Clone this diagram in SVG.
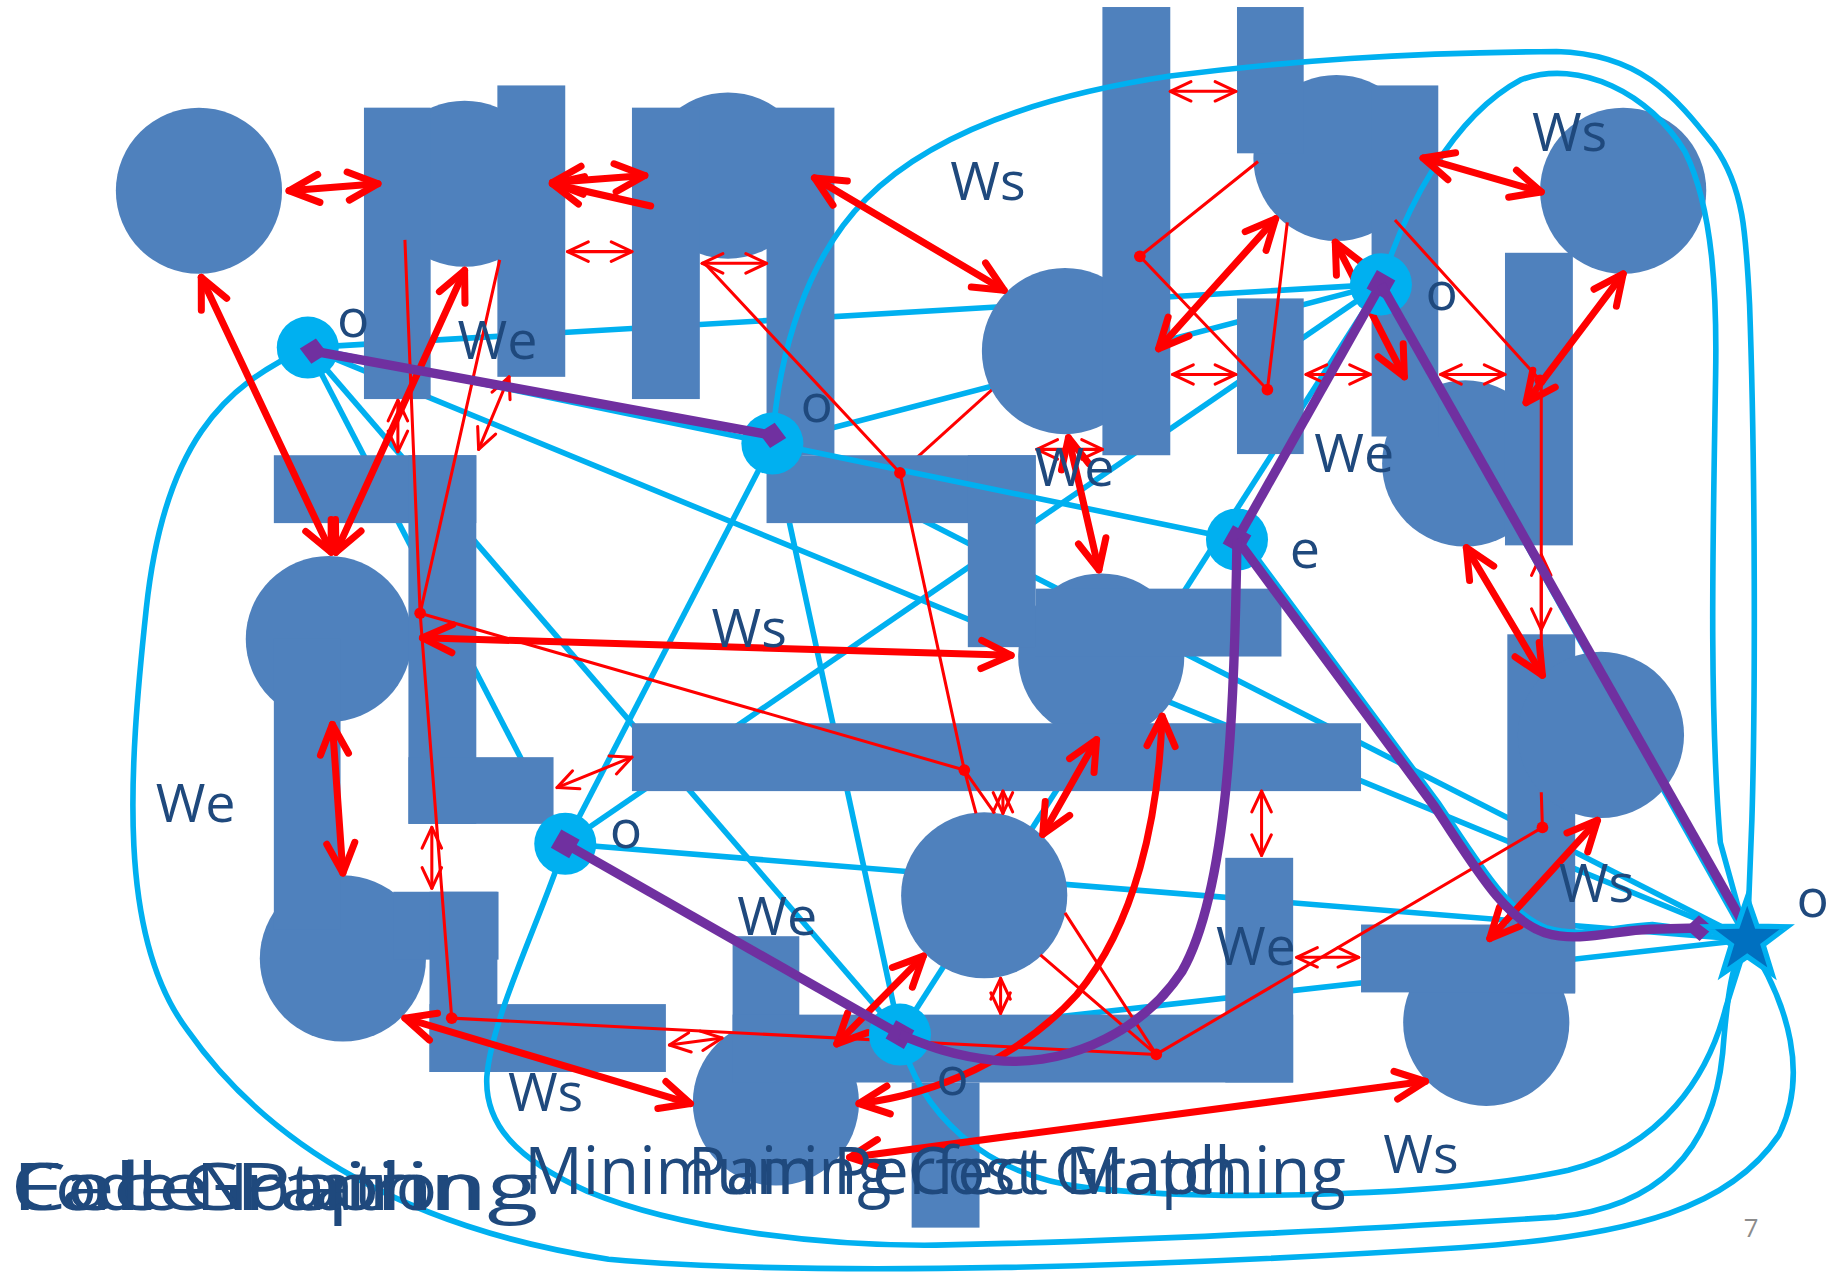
<svg xmlns="http://www.w3.org/2000/svg" width="1835" height="1274" viewBox="0 0 1835 1274">
<defs>
<style>
.sh{fill:#4F81BD}
.cy{fill:none;stroke:#00B0F0;stroke-width:4.8}
.nd{fill:#00B0F0}
.rt{fill:none;stroke:#FF0000;stroke-width:6;stroke-linecap:round;marker-start:url(#ahT);marker-end:url(#ahT)}
.rn{fill:none;stroke:#FF0000;stroke-width:2.6;stroke-linecap:round;marker-start:url(#aht);marker-end:url(#aht)}
.rl{fill:none;stroke:#FF0000;stroke-width:2.6}
.dot{fill:#FF0000}
.pp{fill:none;stroke:#7030A0;stroke-width:8}
.lb{font-family:"Open Sans","Liberation Sans",sans-serif;font-size:46px;fill:#1F497D}
.tt{font-family:"Open Sans","Liberation Sans",sans-serif;font-size:56px;fill:#1F497D}
</style>
<marker id="ahT" viewBox="0 0 10 10" refX="8.5" refY="5" markerWidth="5" markerHeight="5" orient="auto-start-reverse" markerUnits="strokeWidth" overflow="visible"><path d="M0,1 L8.5,5 L0,9" fill="none" stroke="#FF0000" stroke-width="2" stroke-linecap="round" stroke-linejoin="round"/></marker>
<marker id="aht" viewBox="0 0 10 10" refX="8.5" refY="5" markerWidth="8" markerHeight="8" orient="auto-start-reverse" markerUnits="strokeWidth" overflow="visible"><path d="M0,1 L8.5,5 L0,9" fill="none" stroke="#FF0000" stroke-width="1.25" stroke-linecap="round" stroke-linejoin="round"/></marker>
<marker id="sq" viewBox="-10 -10 20 20" refX="0" refY="0" markerWidth="20" markerHeight="20" markerUnits="userSpaceOnUse" orient="auto" overflow="visible"><path d="M-9,-9H9V9H-9Z" fill="#7030A0"/></marker>
<marker id="dia" viewBox="-13 -13 26 26" refX="0" refY="0" markerWidth="26" markerHeight="26" markerUnits="userSpaceOnUse" orient="auto" overflow="visible"><path d="M-12,0L0,-11L12,0L0,11Z" fill="#7030A0"/></marker>
</defs>
<g transform="scale(1.17028)">
<g id="connectors-under">
<path class="cy" d="M263,297L1180,243"/>
<path class="cy" d="M660,379L1180,243"/>
<path class="cy" d="M263,297L1493,803"/>
<path class="cy" d="M660,379L1493,803"/>
<path class="cy" d="M263,297L483,721"/>
<path class="cy" d="M263,297L769,884"/>
<path class="cy" d="M660,379L769,884"/>
<path class="cy" d="M660,379L483,721"/>
<path class="cy" d="M483,721L1180,243"/>
<path class="cy" d="M769,884L1180,243"/>
<path class="cy" d="M483,721L1493,803"/>
<path class="cy" d="M769,884L1493,803"/>
<path class="cy" d="M483,721L769,884"/>
<path class="cy" d="M1180,243L1493,803"/>
<path class="rl" d="M974,219L769,404"/>
</g>
<g id="shapes">
<circle id="c1" class="sh" cx="170" cy="163" r="71"/>
<circle id="c2" class="sh" cx="397" cy="157" r="71"/>
<circle id="c3" class="sh" cx="622" cy="150" r="71"/>
<circle id="c4" class="sh" cx="910" cy="300" r="71"/>
<circle id="c5" class="sh" cx="1142" cy="135" r="71"/>
<circle id="c6" class="sh" cx="1387" cy="163" r="71"/>
<circle id="c7" class="sh" cx="1252" cy="396" r="71"/>
<circle id="c8" class="sh" cx="941" cy="561" r="71"/>
<circle id="c9" class="sh" cx="281" cy="546" r="71"/>
<circle id="c11" class="sh" cx="293" cy="819" r="71"/>
<circle id="c12" class="sh" cx="841" cy="765" r="71"/>
<circle id="c13" class="sh" cx="663" cy="942" r="71"/>
<circle id="c14" class="sh" cx="1270" cy="874" r="71"/>
<rect class="sh" x="311" y="92" width="57" height="249"/>
<rect class="sh" x="425" y="73" width="58" height="249"/>
<rect class="sh" x="540" y="92" width="58" height="249"/>
<rect class="sh" x="655" y="92" width="58" height="297"/>
<rect class="sh" x="655" y="389" width="230" height="58"/>
<rect class="sh" x="827" y="389" width="58" height="164"/>
<rect class="sh" x="885" y="503" width="210" height="58"/>
<rect class="sh" x="540" y="618" width="623" height="58"/>
<rect class="sh" x="942" y="6" width="58" height="383"/>
<rect class="sh" x="1057" y="6" width="57" height="125"/>
<rect class="sh" x="1172" y="73" width="57" height="300"/>
<rect class="sh" x="1057" y="255" width="57" height="133"/>
<rect class="sh" x="1286" y="216" width="58" height="250"/>
<rect class="sh" x="234" y="389" width="173" height="58"/>
<rect class="sh" x="349" y="389" width="58" height="315"/>
<rect class="sh" x="349" y="647" width="124" height="57"/>
<rect class="sh" x="234" y="546" width="57" height="248"/>
<rect class="sh" x="336" y="762" width="90" height="58"/>
<rect class="sh" x="367" y="762" width="58" height="154"/>
<rect class="sh" x="367" y="858" width="202" height="58"/>
<rect class="sh" x="626" y="800" width="57" height="90"/>
<rect class="sh" x="626" y="867" width="479" height="58"/>
<rect class="sh" x="1047" y="733" width="58" height="192"/>
<rect class="sh" x="779" y="925" width="58" height="124"/>
<rect class="sh" x="1288" y="542" width="58" height="307"/>
<rect class="sh" x="1163" y="790" width="183" height="58"/>
<path class="rl" d="M1317,325L1317,579"/>
<circle id="c10" class="sh" cx="1368" cy="628" r="71"/>
</g>
<g id="connectors">
<path class="cy" d="M263,297L1057,461"/>
<path class="cy" d="M263,297C190,330 140,380 125,520C110,660 100,800 160,880C230,980 350,1050 520,1076C700,1092 1000,1082 1250,1066C1400,1056 1480,1030 1520,970C1545,920 1530,860 1493,803"/>
<path class="cy" d="M483,721C460,790 420,870 416,920C414,960 440,990 502,1018C580,1050 700,1065 800,1064C1000,1060 1200,1048 1330,1040C1430,1030 1465,970 1472,900C1476,850 1480,820 1493,803"/>
<path class="cy" d="M769,884C785,950 840,1005 930,1015C1050,1028 1250,1020 1340,1000C1420,980 1460,920 1475,860L1493,803"/>
<path class="cy" d="M660,379C665,300 690,220 740,170C800,110 900,80 1000,65C1100,52 1200,45 1330,44C1400,46 1430,80 1465,125C1490,160 1492,200 1495,260C1500,400 1500,600 1497,700L1493,803"/>
<path class="cy" d="M1180,243C1200,180 1240,100 1300,68C1350,50 1410,80 1440,130C1465,180 1467,260 1466,320C1464,450 1460,600 1470,720L1493,803"/>
<path class="cy" d="M1061,459L1229,686C1264,738 1289,781 1322,793C1352,802 1382,791 1412,790L1493,800"/>
<path class="rt" d="M247,163L323,157"/>
<path class="rt" d="M472,156L551,150"/>
<path class="rt" d="M556,176L472,157" style="marker-start:none"/>
<path class="rt" d="M696,152L858,248"/>
<path class="rt" d="M172,237L283,472"/>
<path class="rt" d="M397,231L287,472"/>
<path class="rt" d="M284,619L293,746"/>
<path class="rt" d="M361,545L864,560"/>
<path class="rt" d="M913,374L939,487"/>
<path class="rt" d="M1090,187L990,298"/>
<path class="rt" d="M1216,135L1317,164"/>
<path class="rt" d="M1141,207L1200,322"/>
<path class="rt" d="M1387,234L1304,344"/>
<path class="rt" d="M1253,468L1318,577"/>
<path class="rt" d="M1365,701L1273,802"/>
<path class="rt" d="M937,632L891,713"/>
<path class="rt" d="M993,612C990,700 970,790 920,850C870,905 800,935 734,943"/>
<path class="rt" d="M789,817L715,892"/>
<path class="rt" d="M346,870L590,943"/>
<path class="rt" d="M726,989L1218,924"/>
<path class="rn" d="M485,215L540,215"/>
<path class="rn" d="M600,225L655,225"/>
<path class="rn" d="M1000,78L1056,78"/>
<path class="rn" d="M1002,320L1056,320"/>
<path class="rn" d="M1116,320L1171,320"/>
<path class="rn" d="M1231,320L1286,320"/>
<path class="rn" d="M886,384L942,384"/>
<path class="rn" d="M435,322L409,384"/>
<path class="rn" d="M340,342L340,386"/>
<path class="rn" d="M476,673L540,647"/>
<path class="rn" d="M369,707L369,759"/>
<path class="rn" d="M572,893L617,887"/>
<path class="rn" d="M857,676L857,695"/>
<path class="rn" d="M855,836L855,866"/>
<path class="rn" d="M1078,676L1078,731"/>
<path class="rn" d="M1108,818L1161,818"/>
<path class="rn" d="M1317,474L1317,538"/>
<path class="rl" d="M974,219L1075,138M974,219L1083,333L1100,190M1316,325L1192,188M1317,677L1318,707M769,404L602,225M769,404L824,658M359,524L346,205M359,524L427,222M359,524L386,870M359,524L824,658M824,658L834,695M824,658L850,695M386,870L988,901L889,816M988,901L910,780M988,901L1318,707"/>
<circle class="dot" cx="974" cy="219" r="5"/>
<circle class="dot" cx="1083" cy="333" r="5"/>
<circle class="dot" cx="1316" cy="325" r="5"/>
<circle class="dot" cx="769" cy="404" r="5"/>
<circle class="dot" cx="359" cy="524" r="5"/>
<circle class="dot" cx="824" cy="658" r="5"/>
<circle class="dot" cx="386" cy="870" r="5"/>
<circle class="dot" cx="988" cy="901" r="5"/>
<circle class="dot" cx="1318" cy="707" r="5"/>
</g>
<g id="nodes">
<circle id="n1" class="nd" cx="263" cy="297" r="26.5"/>
<circle id="n2" class="nd" cx="660" cy="379" r="26.5"/>
<circle id="n3" class="nd" cx="1057" cy="461" r="26.5"/>
<circle id="n4" class="nd" cx="1180" cy="243" r="26.5"/>
<circle id="n5" class="nd" cx="483" cy="721" r="26.5"/>
<circle id="n6" class="nd" cx="769" cy="884" r="26.5"/>
</g>
<g id="matching">
<path class="pp" d="M268,300L660,372" style="marker-start:url(#dia);marker-end:url(#dia)"/>
<path class="pp" d="M483,721L769,884" style="marker-start:url(#sq);marker-end:url(#sq)"/>
<path class="pp" d="M1180,243L1057,461" style="marker-start:url(#sq);marker-end:url(#sq)"/>
<path class="pp" d="M1180,243L1493,795" style="marker-end:url(#sq)"/>
<path class="pp" d="M1057,461L1225,688C1260,740 1285,785 1320,797C1350,806 1380,795 1410,794L1452,793" style="marker-end:url(#dia)"/>
<path class="pp" d="M1057,461C1055,600 1050,760 1010,830C970,890 900,912 850,906C810,902 785,890 769,884"/>
</g>
<g id="n7">
<path d="M1493,767L1501.4,791.4L1527.2,791.9L1506.6,807.4L1514.2,832.1L1493,817.3L1471.8,832.1L1479.4,807.4L1458.8,791.9L1484.6,791.4Z" fill="#0070C0" stroke="#00B0F0" stroke-width="4.5" stroke-linejoin="miter"/>
</g>
<g id="labels">
<text class="lb" x="288" y="288">o</text>
<text class="lb" x="391" y="307">We</text>
<text class="lb" x="684" y="361">o</text>
<text class="lb" x="812" y="171">Ws</text>
<text class="lb" x="1309" y="129">Ws</text>
<text class="lb" x="1218" y="265">o</text>
<text class="lb" x="884" y="415">We</text>
<text class="lb" x="1123" y="403">We</text>
<text class="lb" x="1102" y="485">e</text>
<text class="lb" x="608" y="553">Ws</text>
<text class="lb" x="133" y="702">We</text>
<text class="lb" x="521" y="725">o</text>
<text class="lb" x="630" y="799">We</text>
<text class="lb" x="434" y="949">Ws</text>
<text class="lb" x="800" y="936">o</text>
<text class="lb" x="1039" y="825">We</text>
<text class="lb" x="1332" y="771">Ws</text>
<text class="lb" x="1535" y="784">o</text>
<text class="lb" x="1182" y="1002">Ws</text>
<text class="tt" x="448" y="1020" textLength="702" lengthAdjust="spacingAndGlyphs">Minimum Perfect Matching</text>
<text class="tt" x="588" y="1020" textLength="470" lengthAdjust="spacingAndGlyphs">Pairing Cost Graph</text>
<text class="tt" x="10" y="1034" textLength="360" lengthAdjust="spacingAndGlyphs">Cell Graph</text>
<text class="tt" x="10" y="1034" textLength="400" lengthAdjust="spacingAndGlyphs">Code Notation</text>
<text class="tt" x="10" y="1034" textLength="450" lengthAdjust="spacingAndGlyphs">Face Pairing</text>
<text x="1490" y="1057" font-family="Open Sans, Liberation Sans, sans-serif" font-size="22" fill="#8C8C8C">7</text>
</g>
</g>
</svg>
